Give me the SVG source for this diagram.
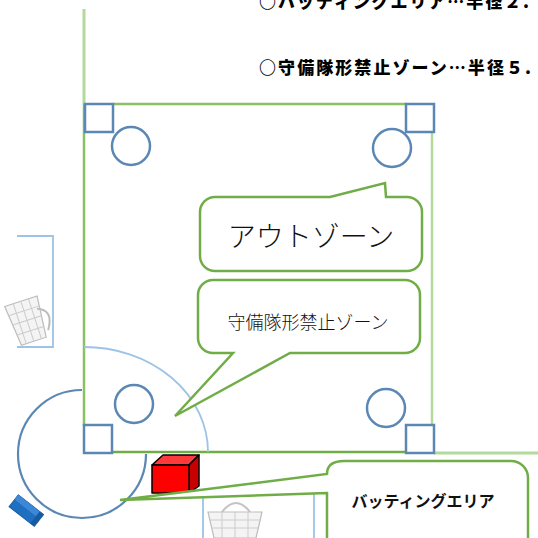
<svg xmlns="http://www.w3.org/2000/svg" width="538" height="538" viewBox="0 0 538 538">
  <defs>
    <style>
      .field-dark { stroke: #70ad47; stroke-width: 2.5; fill: none; }
      .field-mid { stroke: #8cc063; stroke-width: 2.5; fill: none; }
      .field-light { stroke: #b4d99c; stroke-width: 3; fill: none; }
      .base { fill: #ffffff; stroke: #5b87b5; stroke-width: 2.5; }
      .guide { stroke: #9dc3e6; stroke-width: 1.8; fill: none; }
      .callout { fill: #ffffff; stroke: #70ad47; stroke-width: 2.5; stroke-linejoin: miter; }
      .jp { font-family: "Noto Sans CJK JP", "Noto Sans", sans-serif; fill: #111111; }
      .head { font-family: "Noto Sans CJK JP", "Noto Sans", sans-serif; font-weight: 900; font-size: 17px; fill: #000000; }
      .basket { fill: #f4f4f4; stroke: #bdbdbd; stroke-width: 1.2; }
      .basket-grid { stroke: #cccccc; stroke-width: 1; fill: none; }
    </style>
  </defs>

  <!-- header notes -->
  <g id="notes">
    <text class="head" x="259" y="8" textLength="270" lengthAdjust="spacing">○バッティングエリア…半径２.</text>
    <text class="head" x="259" y="74" textLength="272" lengthAdjust="spacing">○守備隊形禁止ゾーン…半径５.</text>
  </g>

  <!-- field boundary lines -->
  <g id="field">
    <line class="field-light" x1="84" y1="9" x2="84" y2="104"/>
    <line class="field-mid" x1="84" y1="104" x2="84" y2="426"/>
    <line class="field-mid" x1="113" y1="104" x2="406" y2="104"/>
    <line class="field-light" x1="432" y1="132" x2="432" y2="425" style="stroke-width:2.5"/>
    <line class="field-dark" x1="112" y1="452" x2="406" y2="452"/>
    <line class="field-light" x1="434" y1="453" x2="538" y2="453"/>
  </g>

  <!-- thin guide lines -->
  <g id="guides">
    <path class="guide" d="M84,347 A124,105 0 0 1 208,452"/>
    <polyline class="guide" points="17,236 53,236 53,347 17,347"/>
    <line class="guide" x1="203" y1="493" x2="203" y2="538"/>
    <line class="guide" x1="314" y1="493" x2="314" y2="538"/>
  </g>

  <!-- batting circle -->
  <g id="batting-circle">
    <path d="M82,390 A64,64 0 1 0 146,454" fill="none" stroke="#5b87b5" stroke-width="2.2"/>
  </g>

  <!-- bases and fielder spots -->
  <g id="base-top-left"><rect class="base" x="85" y="104" width="28" height="28"/></g>
  <g id="base-top-right"><rect class="base" x="406" y="104" width="28" height="28"/></g>
  <g id="base-bottom-left"><rect class="base" x="84" y="425" width="28" height="28"/></g>
  <g id="base-bottom-right"><rect class="base" x="406" y="425" width="28" height="28"/></g>
  <g id="spot-top-left"><circle class="base" cx="131" cy="146" r="19"/></g>
  <g id="spot-top-right"><circle class="base" cx="392" cy="148" r="19"/></g>
  <g id="spot-bottom-left"><circle class="base" cx="134" cy="404" r="19"/></g>
  <g id="spot-bottom-right"><circle class="base" cx="386" cy="408" r="19"/></g>

  <!-- red block -->
  <g id="red-block" stroke="#000000" stroke-width="1.5" stroke-linejoin="round">
    <polygon points="152,465 163,455 199,455 189,465" fill="#ff3a3a"/>
    <polygon points="189,465 199,455 199,486 189,493" fill="#c80000"/>
    <rect x="152" y="465" width="37" height="28" fill="#ff0000"/>
  </g>

  <!-- blue block -->
  <g id="blue-block" transform="rotate(38 26 511)">
    <rect x="10" y="503" width="32" height="15" fill="#1f6fc0" stroke="#175aa0" stroke-width="1"/>
    <rect x="10" y="503" width="32" height="6" fill="#3d88d6"/>
    <rect x="37" y="503" width="5" height="15" fill="#175aa0"/>
  </g>

  <!-- baskets -->
  <g id="basket-left" transform="rotate(-18 28 320)">
    <polygon class="basket" points="10,300 44,300 40,342 14,342"/>
    <path class="basket-grid" d="M11,310 H43 M12,320 H42 M13,331 H41 M19,300 V342 M27,300 V342 M35,300 V342"/>
    <path d="M40,312 Q56,318 44,336" fill="none" stroke="#bdbdbd" stroke-width="2"/>
  </g>
  <g id="basket-bottom">
    <path d="M222,512 Q236,494 250,512" fill="none" stroke="#c4c4c4" stroke-width="2"/>
    <polygon class="basket" points="208,512 262,512 256,538 214,538"/>
    <path class="basket-grid" d="M209,520 H260 M211,528 H258 M222,512 V538 M235,512 V538 M248,512 V538"/>
  </g>

  <!-- callouts -->
  <g id="callout-outzone">
    <path class="callout" d="M215,197 H330 L385,183 L386,197 H407 A15,15 0 0 1 422,212 V256 A15,15 0 0 1 407,271 H215 A15,15 0 0 1 200,256 V212 A15,15 0 0 1 215,197 Z"/>
    <text class="jp" x="311" y="247" font-size="28" font-weight="300" text-anchor="middle">アウトゾーン</text>
  </g>

  <g id="callout-nodefense">
    <path class="callout" d="M213,280 H405 A15,15 0 0 1 420,295 V338 A15,15 0 0 1 405,353 H290 L175,416 L233,353 H213 A15,15 0 0 1 198,338 V295 A15,15 0 0 1 213,280 Z"/>
    <text class="jp" x="308" y="329" font-size="18" font-weight="300" text-anchor="middle">守備隊形禁止ゾーン</text>
  </g>

  <g id="callout-batting">
    <path class="callout" d="M327,493 L120,500 L327,474 Q327,461 344,461 H511 A17,17 0 0 1 528,478 V560 H327 Z"/>
    <text class="jp" x="423" y="507" font-size="16" font-weight="700" text-anchor="middle">バッティングエリア</text>
  </g>
</svg>
